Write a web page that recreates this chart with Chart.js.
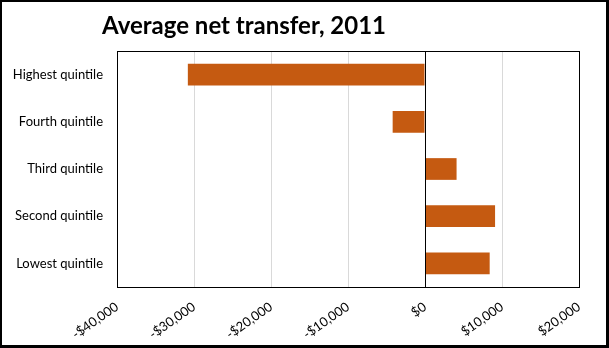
<!DOCTYPE html>
<html>
<head>
<meta charset="utf-8">
<script src="https://cdn.jsdelivr.net/npm/chart.js@4"></script>
<style>
  html, body { margin: 0; padding: 0; background: #fff; }
  #wrap { width: 609px; height: 348px; position: relative; }
</style>
</head>
<body>
<div id="wrap"><canvas id="transferChart" width="609" height="348"></canvas></div>
<script>
var categories = ['Highest quintile', 'Fourth quintile', 'Third quintile', 'Second quintile', 'Lowest quintile'];
var netTransfer = [-30800, -4200, 4100, 9100, 8400];
var tickValues = [-40000, -30000, -20000, -10000, 0, 10000, 20000];
var chartTitle = 'Average net transfer, 2011';

function money(v) {
    var s = '$' + Math.abs(v).toLocaleString('en-US');
    return v < 0 ? '-' + s : s;
}

// outer frame, plot border and title
var framePlugin = {
    id: 'frame',
    afterDraw: function(chart) {
        var ctx = chart.ctx;
        var a = chart.chartArea;
        ctx.save();
        ctx.strokeStyle = '#000';
        ctx.lineWidth = 1;
        ctx.strokeRect(Math.round(a.left) + 0.5, Math.round(a.top) + 0.5,
            Math.round(a.right - a.left), Math.round(a.bottom - a.top));
        var x0 = Math.round(chart.scales.x.getPixelForValue(0)) + 0.5;
        ctx.beginPath();
        ctx.moveTo(x0, a.top);
        ctx.lineTo(x0, a.bottom);
        ctx.stroke();
        ctx.lineWidth = 3;
        ctx.strokeRect(0.5, 0.5, chart.width - 2, chart.height - 2);
        ctx.fillStyle = '#000';
        ctx.font = 'bold 24px Lato';
        ctx.textBaseline = 'alphabetic';
        ctx.textAlign = 'left';
        ctx.fillText(chartTitle, a.left - 15, 34);
        ctx.restore();
    }
};

var ctx = document.getElementById('transferChart').getContext('2d');
var transferChart = new Chart(ctx, {
    type: 'bar',
    data: {
        labels: categories,
        datasets: [{
            label: 'Average net transfer',
            data: netTransfer,
            backgroundColor: '#c55a11',
            borderWidth: 0,
            barPercentage: 0.92,
            categoryPercentage: 0.5
        }]
    },
    options: {
        indexAxis: 'y',
        responsive: false,
        animation: false,
        layout: {
            padding: { top: 51, right: 30, left: 11, bottom: 0 }
        },
        plugins: {
            legend: { display: false },
            title: { display: false },
            tooltip: { enabled: false }
        },
        scales: {
            x: {
                min: -40000,
                max: 20000,
                afterBuildTicks: function(axis) {
                    axis.ticks = tickValues.map(function(v) { return { value: v }; });
                },
                afterFit: function(axis) { axis.height = 61; },
                grid: {
                    color: '#d9d9d9',
                    drawTicks: false
                },
                border: { display: false },
                ticks: {
                    color: '#000',
                    font: { family: 'Lato', size: 13 },
                    minRotation: 35,
                    maxRotation: 35,
                    padding: 12,
                    callback: function(v) { return money(v); }
                }
            },
            y: {
                afterFit: function(axis) { axis.width = 106; },
                grid: { display: false, drawTicks: false },
                border: { display: false },
                ticks: {
                    color: '#000',
                    font: { family: 'Lato', size: 13 },
                    padding: 14
                }
            }
        }
    },
    plugins: [framePlugin]
});
</script>
</body>
</html>
